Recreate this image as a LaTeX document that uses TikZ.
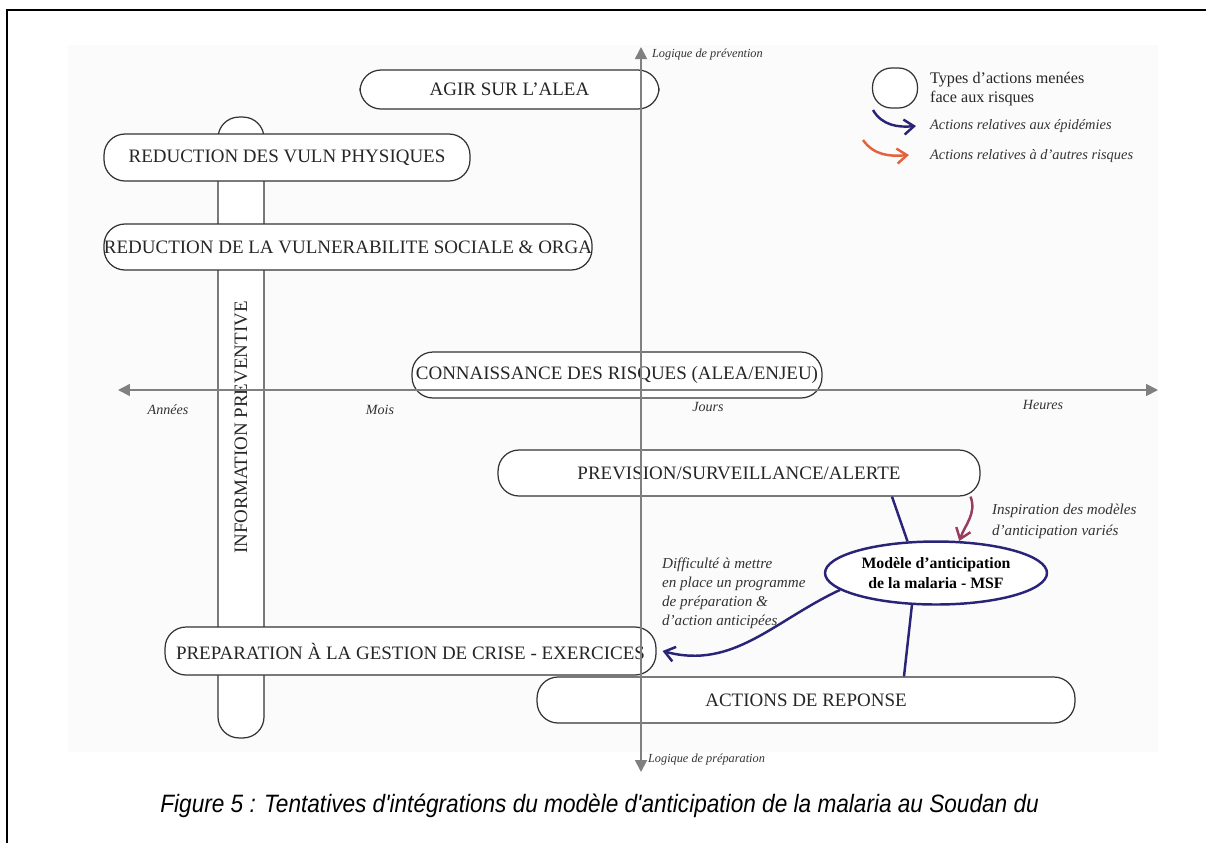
\documentclass[tikz,border=0pt]{standalone}
\usepackage{fontspec}
\setmainfont{Liberation Serif}
\newfontfamily\capfont{Liberation Sans}
\usetikzlibrary{arrows.meta, shapes.geometric}
\definecolor{axegris}{RGB}{128,128,128}
\definecolor{msfnavy}{RGB}{42,36,120}
\definecolor{risqorange}{RGB}{226,98,60}
\definecolor{inspirouge}{RGB}{150,60,95}

\begin{document}
\begin{tikzpicture}
  [x=0.02cm, y=0.02cm, >={Straight Barb[length=2mm, width=3mm]},
   action/.style={draw=black!80, fill=white, line width=0.7pt, rounded corners=0.42cm,
     minimum height=0.92cm, inner sep=0pt, text=black!85, font=\fontsize{10.8}{13}\selectfont},
   axe/.style={draw=axegris, line width=1pt, {Triangle[length=2.4mm, width=2.4mm]}-{Triangle[length=2.4mm, width=2.4mm]}},
   lbl/.style={font=\fontsize{8}{10}\selectfont\itshape, text=black!80, inner sep=1pt},
   epid/.style={draw=msfnavy, line width=1.4pt}]
  \useasboundingbox (0,0) rectangle (1206,-843);
  \fill[gray!3] (68,-45) rectangle (1158,-752);
  \draw[line width=1.1pt] (7,-843) -- (7,-10) -- (1206,-10);

  % types d'actions
  \node[action, minimum width=12.42cm, rotate=90] (infoprev) at (241,-427.5) {INFORMATION PREVENTIVE};
  \node[action, minimum width=5.98cm, minimum height=0.78cm] (agir) at (509.5,-89.5) {AGIR SUR L’ALEA};
  \node[action, minimum width=7.32cm, minimum height=0.94cm] (physiq) at (287,-157.5) {REDUCTION DES VULN PHYSIQUES};
  \node[action, minimum width=9.76cm] (sociale) at (348,-247) {REDUCTION DE LA VULNERABILITE SOCIALE \& ORGA};
  \node[action, minimum width=8.2cm] (connaiss) at (617,-375) {CONNAISSANCE DES RISQUES (ALEA/ENJEU)};
  \node[action, minimum width=9.64cm] (prevision) at (739,-473) {PREVISION/SURVEILLANCE/ALERTE};
  \node[action, minimum width=9.82cm, minimum height=0.96cm] (preparation) at (410.5,-651) {PREPARATION À LA GESTION DE CRISE - EXERCICES};
  \node[action, minimum width=10.76cm] (reponse) at (806,-700) {ACTIONS DE REPONSE};

  % axes
  \coordinate (vhaut) at (641,-47);
  \coordinate (vbas) at (641,-772);
  \coordinate (hgauche) at (118,-390);
  \coordinate (hdroite) at (1158,-390);
  \draw[axe] (vbas) -- (vhaut);
  \draw[axe] (hgauche) -- (hdroite);
  \node[lbl, font=\fontsize{7}{9}\selectfont\itshape, anchor=west] (lprev) at (650,-55) {Logique de prévention};
  \node[lbl, font=\fontsize{7}{9}\selectfont\itshape, anchor=west] (lprep) at (646,-760) {Logique de préparation};
  \node[lbl] (annees) at (168,-410) {Années};
  \node[lbl] (mois) at (380,-410) {Mois};
  \node[lbl] (jours) at (708,-407) {Jours};
  \node[lbl] (heures) at (1043,-405) {Heures};

  % modele MSF
  \node[ellipse, draw=msfnavy, line width=1.4pt, fill=white, minimum width=4.44cm, minimum height=1.26cm,
    inner sep=0pt, align=center, font=\bfseries\fontsize{9}{11}\selectfont] (msf) at (936,-573)
    {Modèle d’anticipation\\de la malaria - MSF};
  \draw[epid] ([xshift=3.06cm]prevision.south) -- (msf.132);
  \draw[epid] (msf.-127) -- ([xshift=1.96cm]reponse.north);
  \draw[draw=inspirouge, line width=1.4pt, ->] ([xshift=-0.2cm]prevision.south east) to[out=-70, in=70] (msf.54);
  \draw[epid, ->] (msf.-170) to[out=-155, in=-15] ([xshift=0.12cm]preparation.east);
  \node[lbl, font=\fontsize{8.6}{10.8}\selectfont\itshape, anchor=north west, align=left] (diffic) at (660,-556)
    {Difficulté à mettre\\en place un programme\\de préparation \&\\d’action anticipées};
  \node[lbl, font=\fontsize{8.6}{12}\selectfont\itshape, anchor=west, align=left] (inspitxt) at (990,-521)
    {Inspiration des modèles\\d’anticipation variés};

  % legende
  \node[action, minimum width=0.9cm, minimum height=0.8cm, rounded corners=0.38cm] (legbox) at (895,-88) {};
  \node[anchor=west, align=left, inner sep=1pt, text=black!85, font=\fontsize{9.2}{11}\selectfont] (legtxt) at (928,-89)
    {Types d’actions menées\\face aux risques};
  \coordinate (legnavA) at (873,-110);
  \coordinate (legnavB) at (916,-126);
  \coordinate (legorA) at (863,-140);
  \coordinate (legorB) at (909,-155);
  \draw[epid, ->] (legnavA) to[out=-60, in=185] (legnavB);
  \draw[draw=risqorange, line width=1.4pt, ->] (legorA) to[out=-55, in=185] (legorB);
  \node[lbl, font=\fontsize{8.2}{10}\selectfont\itshape, anchor=west] (legepid) at (928,-126) {Actions relatives aux épidémies};
  \node[lbl, font=\fontsize{8.2}{10}\selectfont\itshape, anchor=west] (legautre) at (928,-156) {Actions relatives à d’autres risques};

  \node[anchor=west, inner sep=0pt, font=\capfont\itshape\fontsize{14.3}{17}\selectfont] (legende) at (160,-806)
    {\scalebox{0.9}[1]{Figure 5 : Tentatives d'intégrations du modèle d'anticipation de la malaria au Soudan du}};
\end{tikzpicture}
\end{document}
